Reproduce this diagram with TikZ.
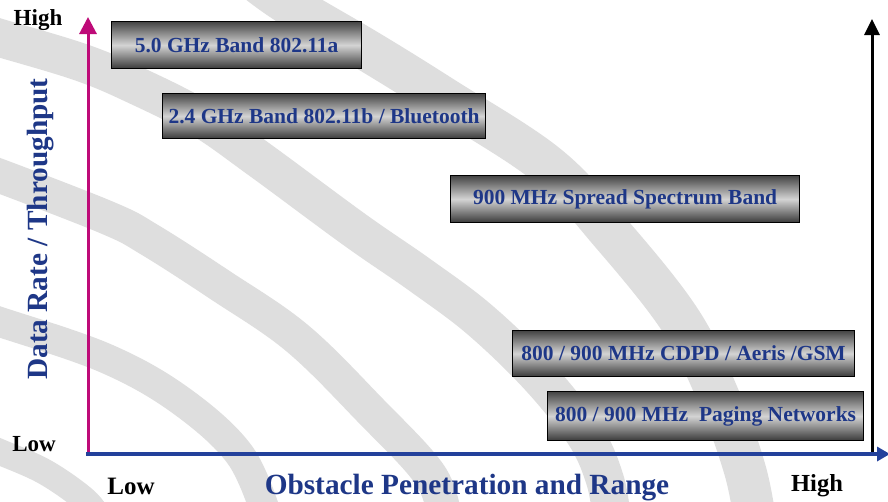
\documentclass[tikz,border=0pt]{standalone}
\usepackage{fontspec}
\setmainfont{Liberation Serif}
\usetikzlibrary{arrows.meta}
\definecolor{bandgray}{RGB}{222,222,222}
\definecolor{axmag}{RGB}{190,10,120}
\definecolor{axblue}{RGB}{35,65,155}
\definecolor{lblblue}{RGB}{30,55,135}
\definecolor{boxdark}{RGB}{68,68,68}
\definecolor{boxlight}{RGB}{212,212,212}
\tikzset{
  bandbox/.style={draw=black, line width=1.2pt, top color=boxdark, bottom color=boxdark!85!black,
    middle color=boxlight, anchor=north west, inner sep=0pt,
    font=\fontsize{21.5}{24}\selectfont\bfseries, text=lblblue},
  wave/.style={draw=bandgray, line cap=butt},
  ticklbl/.style={font=\fontsize{23}{26}\selectfont\bfseries, text=black, inner sep=0pt},
  axlbl/.style={font=\fontsize{29.3}{32}\selectfont\bfseries, text=lblblue, inner sep=0pt}
}
\begin{document}
\begin{tikzpicture}[x=1pt,y=-1pt]
\useasboundingbox[fill=white] (0,0) rectangle (888,501);
% background waves
\begin{scope}
\clip (0,0) rectangle (888,501);
\draw[wave, line width=42pt] plot[smooth, tension=0.6] coordinates {(255,-20) (290,5) (370,52) (444,98) (547,165) (610,232) (680,320) (720,400) (745,470) (755,520)};
\draw[wave, line width=38pt] plot[smooth, tension=0.6] coordinates {(-20,32) (0,38) (80,62) (135,85) (200,118) (260,160) (355,230) (420,275) (480,320) (540,378) (585,435) (605,480) (612,520)};
\draw[wave, line width=34pt] plot[smooth, tension=0.6] coordinates {(-20,170) (0,176) (108,218) (150,240) (220,285) (297,338) (370,410) (430,475) (445,520)};
\draw[wave, line width=30pt] plot[smooth, tension=0.6] coordinates {(-20,316) (0,322) (105,358) (180,400) (240,455) (268,520)};
\draw[wave, line width=26pt] plot[smooth, tension=0.6] coordinates {(-20,444) (0,452) (45,472) (85,500) (100,520)};
\end{scope}
% band boxes
\node[bandbox, minimum width=250pt, minimum height=47pt] (b50) at (111,21) {5.0 GHz Band 802.11a};
\node[bandbox, minimum width=323pt, minimum height=45pt] (b24) at (162,93) {2.4 GHz Band 802.11b / Bluetooth};
\node[bandbox, minimum width=349pt, minimum height=47pt] (b900) at (450,175) {900 MHz Spread Spectrum Band};
\node[bandbox, minimum width=342pt, minimum height=46pt] (bcdpd) at (512,330) {800 / 900 MHz CDPD / Aeris /GSM};
\node[bandbox, minimum width=316pt, minimum height=49pt] (bpage) at (547,391) {800 / 900 MHz\ \ Paging Networks};
% axes
\coordinate (O) at (88,456);
\coordinate (Ytop) at (88,17);
\coordinate (Xs) at (86,454);
\coordinate (Xend) at (890,454);
\coordinate (Rbot) at (872,453);
\coordinate (Rtop) at (872,19);
\draw[axmag, line width=3pt, -{Triangle[length=17pt,width=17pt]}] (O) -- (Ytop);
\draw[black, line width=3pt, -{Triangle[length=16pt,width=15pt]}] (Rbot) -- (Rtop);
\draw[axblue, line width=3.6pt, -{Triangle[length=13pt,width=14pt]}] (Xs) -- (Xend);
% labels
\node[ticklbl] (yhigh) at (38,20.5) {High};
\node[ticklbl] (ylow) at (34,444.5) {Low};
\node[ticklbl, font=\fontsize{25}{28}\selectfont\bfseries] (xlow) at (131,486) {Low};
\node[ticklbl, font=\fontsize{24.5}{27}\selectfont\bfseries] (xhigh) at (817,486) {High};
\node[axlbl, anchor=base, rotate=90] (ylbl) at (47,229) {Data Rate / Throughput};
\node[axlbl, anchor=base] (xlbl) at (467,494) {Obstacle Penetration and Range};
\end{tikzpicture}
\end{document}
